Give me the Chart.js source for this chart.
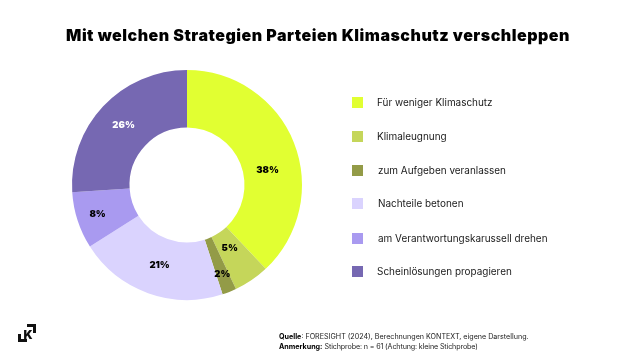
<!DOCTYPE html>
<html><head><meta charset="utf-8">
<script src="https://cdn.jsdelivr.net/npm/chart.js@4"></script>
<style>
html,body{margin:0;padding:0;background:#fff;width:640px;height:360px;overflow:hidden}
#wrap{position:relative;width:640px;height:360px;font-family:Inter,"Liberation Sans",sans-serif;color:#1a1a1a}
canvas{position:absolute;left:0;top:0}
#title{position:absolute;left:0;width:636px;top:25px;text-align:center;font:900 16px Inter,sans-serif;letter-spacing:.5px;color:#000;white-space:nowrap}
.sw{position:absolute;left:352px;width:11px;height:11px}
.lg{position:absolute;font-size:9.95px;line-height:14px;white-space:nowrap}
.note{position:absolute;left:279px;font-size:7.15px;line-height:10px;white-space:nowrap;color:#222}
.note b{color:#000}
.br{position:absolute;width:6px;height:5.5px;border:0 solid #111}
#k{position:absolute;left:23.5px;top:328px;font:900 12px Inter,sans-serif;color:#111;line-height:13px}
</style></head><body>
<div id="wrap">
<canvas id="c" width="640" height="360"></canvas>
<div id="title">Mit welchen Strategien Parteien Klimaschutz verschleppen</div>
<div id="legend"></div>
<div class="note" style="top:332px"><b>Quelle</b>: FORESIGHT (2024), Berechnungen KONTEXT, eigene Darstellung.</div>
<div class="note" style="top:342px"><b>Anmerkung:</b> <span style="letter-spacing:-.13px">Stichprobe: n = 61 (Achtung: kleine Stichprobe)</span></div>
<div class="br" style="left:27px;top:324px;border-top-width:3px;border-right-width:3px"></div>
<div class="br" style="left:18px;top:333.5px;border-bottom-width:3px;border-left-width:3px"></div>
<div id="k">K</div>
</div>
<script>
const categories = ["Für weniger Klimaschutz","Klimaleugnung","zum Aufgeben veranlassen","Nachteile betonen","am Verantwortungskarussell drehen","Scheinlösungen propagieren"];
const shares = [38,5,2,21,8,26];
const sliceColors = ["#E1FF32","#C5D65A","#939B47","#DAD3FE","#A99AF0","#7668B2"];
const labelColors = ["#000","#000","#000","#000","#000","#fff"];
const labelRadius = [82,76,96,85,94,87];
const labelTurn = [11,0,0,-1,0,0];
const legendY = [102,136,170,203,238,271];
const legendX = [377,377,378,378,378,377];

const lg = document.getElementById('legend');
categories.forEach((t,i)=>{
  const s=document.createElement('div');s.className='sw';s.style.top=(legendY[i]-5.5)+'px';s.style.background=sliceColors[i];lg.appendChild(s);
  const d=document.createElement('div');d.className='lg';d.textContent=t;d.style.left=legendX[i]+'px';d.style.top=(legendY[i]-7)+'px';lg.appendChild(d);
});

const pctLabels = {
  id:'pctLabels',
  afterDatasetsDraw(chart){
    const ctx=chart.ctx, meta=chart.getDatasetMeta(0);
    ctx.save();
    ctx.font='900 9.5px Inter, sans-serif';
    ctx.textAlign='center';ctx.textBaseline='middle';
    meta.data.forEach((a,i)=>{
      const mid=(a.startAngle+a.endAngle)/2+labelTurn[i]*Math.PI/180;
      ctx.fillStyle=labelColors[i];
      ctx.fillText(shares[i]+'%',a.x+Math.cos(mid)*labelRadius[i],a.y+Math.sin(mid)*labelRadius[i]);
    });
    ctx.restore();
  }
};

new Chart(document.getElementById('c'),{
  type:'doughnut',
  data:{labels:categories,datasets:[{data:shares,backgroundColor:sliceColors,borderWidth:0}]},
  options:{
    responsive:false,animation:false,cutout:'50%',
    layout:{padding:{left:72,right:338,top:70,bottom:60}},
    plugins:{legend:{display:false},tooltip:{enabled:false},title:{display:false}}
  },
  plugins:[pctLabels]
});
</script>
</body></html>
